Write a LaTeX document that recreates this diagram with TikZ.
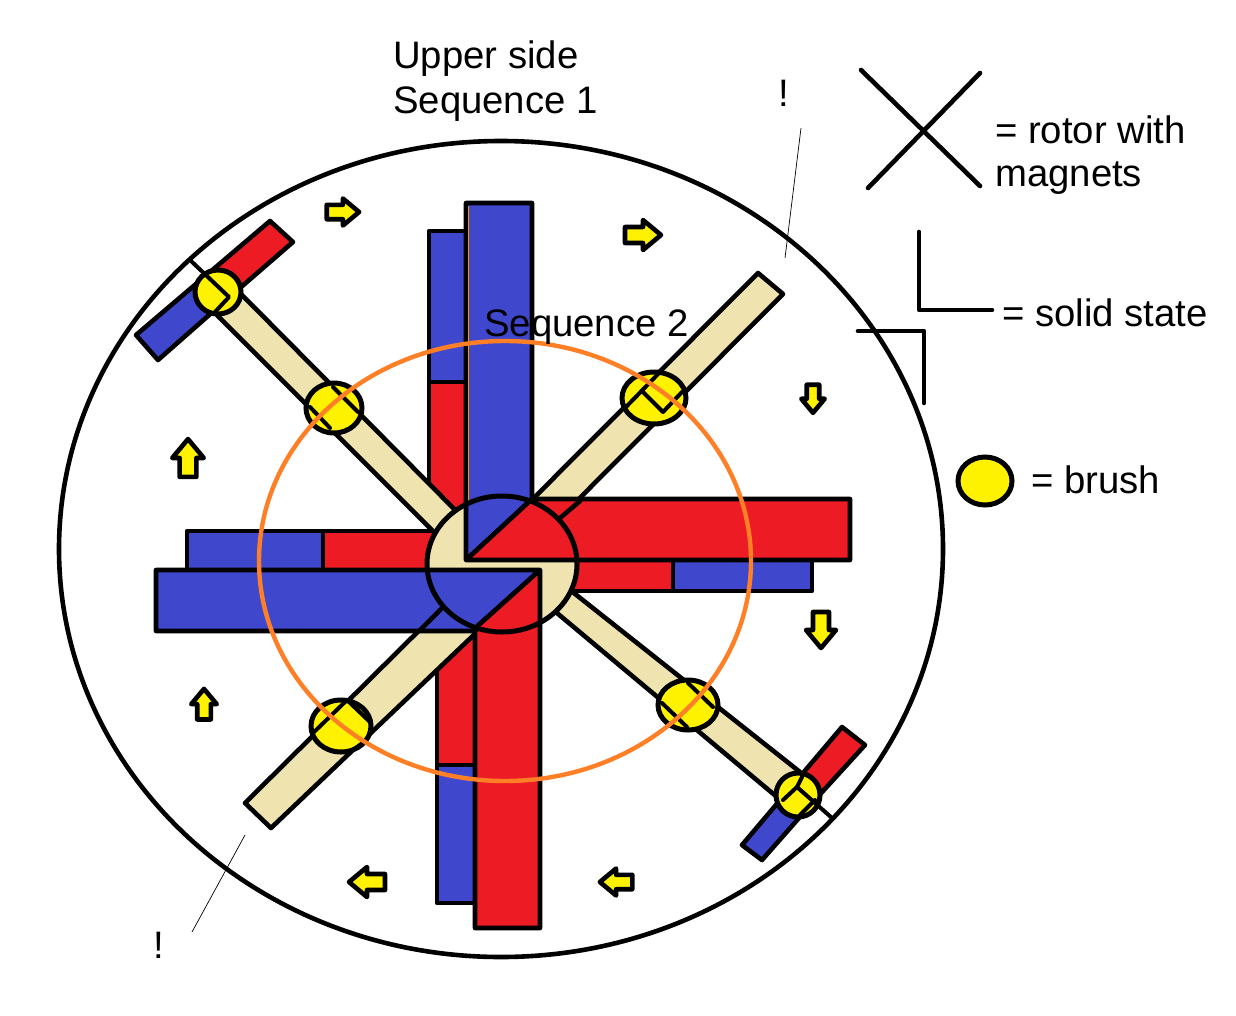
\documentclass[tikz,border=0pt]{standalone}
\usepackage{fontspec}
\setmainfont{Liberation Sans}
\definecolor{cblue}{HTML}{3F48CC}
\definecolor{cred}{HTML}{ED1C24}
\definecolor{ccream}{HTML}{EFE4B0}
\definecolor{cyel}{HTML}{FFF200}
\definecolor{corange}{HTML}{FF7F27}
\tikzset{
 ink/.style={draw=black,line width=4.6pt,line join=round},
 inkline/.style={draw=black,line width=4.6pt,line cap=round,line join=round},
 trace/.style={draw=black,line width=4pt,line cap=round,line join=round},
 hair/.style={draw=black,line width=0.7pt},
 brushspot/.style={draw=black,line width=5pt,fill=cyel},
 label/.style={font=\fontsize{38.3}{44}\selectfont,anchor=base west,inner sep=0pt,align=left},
}
\newcommand{\blk}[4]{%
 \draw[ink,fill=cyel,shift={(#1,#2)},rotate=#3,scale=#4]
 (-17,-8) -- (1,-8) -- (1,-15) -- (19,0) -- (1,15) -- (1,8) -- (-17,8) -- cycle;}
\begin{document}
\begin{tikzpicture}[x=1pt,y=-1pt]
\useasboundingbox (0,0) rectangle (1236,1015);
\fill[white] (0,0) rectangle (1236,1015);
% outer circle
\draw[black,line width=4.6pt] (501,549) ellipse [x radius=442,y radius=408];
% back bars
\draw[ink,fill=cblue] (429,231) rectangle (467,382);
\draw[ink,fill=cred] (429,382) rectangle (467,530);
\draw[ink,fill=cblue] (187,531) rectangle (323,570);
\draw[ink,fill=cred] (323,531) rectangle (450,570);
\draw[ink,fill=cred] (570,560) rectangle (673,591);
\draw[ink,fill=cblue] (673,560) rectangle (812,591);
\draw[ink,fill=cred] (437,620) rectangle (475,765);
\draw[ink,fill=cblue] (437,765) rectangle (475,903);
% arms
\draw[ink,fill=ccream] (758,273) -- (783,294) -- (520,558) -- (480,552) -- cycle;
\draw[ink,fill=ccream] (245,803) -- (271,828) -- (500,610) -- (470,580) -- cycle;
\draw[ink,fill=ccream] (242,295) -- (470,525) -- (450,548) -- (217,315) -- cycle;
\draw[ink,fill=ccream] (800,772) -- (777,797) -- (545,603) -- (560,582) -- cycle;
% front bars
\draw[ink,fill=cred] (466,560) -- (532,499) -- (850,499) -- (850,560) -- cycle;
\draw[ink,fill=cblue] (466,560) -- (466,203) -- (532,203) -- (532,499) -- cycle;
\draw[ink,fill=cred] (540,570) -- (540,928) -- (475,928) -- (475,631) -- cycle;
\draw[ink,fill=cblue] (540,570) -- (156,570) -- (156,631) -- (472,631) -- cycle;
\draw[line width=1pt,draw=orange!80!yellow] (468.5,206) -- (468.5,556);
% arm edges lying over the front bars
\draw[inkline] (560,518) -- (580,501);
\draw[inkline] (443,607) -- (419,631);
% hub
\draw[draw=none,fill=ccream] (502,564) ellipse [x radius=75,y radius=68];
\begin{scope}
\clip (502,564) ellipse [x radius=75,y radius=68];
\draw[ink,fill=cblue] (466,560) -- (466,480) -- (532,480) -- (532,499) -- cycle;
\draw[ink,fill=cred] (466,560) -- (532,499) -- (600,480) -- (600,560) -- cycle;
\draw[ink,fill=cblue] (540,570) -- (400,570) -- (400,650) -- (472,631) -- cycle;
\draw[ink,fill=cred] (540,570) -- (540,650) -- (475,650) -- (472,631) -- cycle;
\end{scope}
\draw[black,line width=5pt] (502,564) ellipse [x radius=75,y radius=68];
% T-heads
\draw[ink,fill=cred] (203,278) -- (270,221) -- (293,242) -- (225,301) -- cycle;
\draw[ink,fill=cblue] (203,278) -- (136,335) -- (158,360) -- (225,301) -- cycle;
\draw[ink,fill=cred] (792,786) -- (842,727) -- (865,745) -- (813,802) -- cycle;
\draw[ink,fill=cblue] (792,786) -- (742,845) -- (762,860) -- (813,802) -- cycle;
% brushes
\path[brushspot] (218,292) ellipse [x radius=23,y radius=22];
\path[brushspot] (334,408) ellipse [x radius=28,y radius=25];
\path[brushspot] (654,398) ellipse [x radius=32,y radius=26];
\path[brushspot] (688,705) ellipse [x radius=30,y radius=25];
\path[brushspot] (341,726) ellipse [x radius=30,y radius=26];
\path[brushspot] (798,795) ellipse [x radius=22,y radius=22];
% edge and shaft traces over brushes
\draw[trace] (190,260) -- (229,297) -- (215,312);
\draw[trace] (310,407) -- (330,428);
\draw[trace] (333,387) -- (358,412);
\draw[trace] (625,408) -- (660,372);
\draw[trace] (643,392) -- (663,412) -- (682,392);
\draw[trace] (662,703) -- (687,727);
\draw[trace] (688,683) -- (713,707);
\draw[trace] (313,733) -- (347,700) -- (370,722);
\draw[trace] (364,742) -- (350,752);
\draw[trace] (802,777) -- (797,787) -- (783,800);
\draw[trace] (797,787) -- (832,818);
\draw[trace] (815,800) -- (800,815);
% orange ring
\draw[corange,line width=4.4pt] (505,561) ellipse [x radius=246,y radius=220];
% direction arrows
\blk{342}{212}{0}{0.9}
\blk{642}{235}{0}{1}
\blk{813}{398}{-90}{0.78}
\blk{821}{629}{-90}{1}
\blk{617}{882}{180}{0.9}
\blk{368}{882}{180}{1}
\blk{204}{705}{90}{0.85}
\blk{188}{459}{90}{1.05}
% legend
\coordinate (xa) at (861,70); \coordinate (xb) at (980,186);
\coordinate (xc) at (980,73); \coordinate (xd) at (868,188);
\draw[inkline] (xa) -- (xb);
\draw[inkline] (xc) -- (xd);
\draw[inkline] (919,232) -- (919,310) -- (992,310);
\draw[inkline] (858,331) -- (924,331) -- (924,403);
\path[brushspot] (985,481) ellipse [x radius=27,y radius=24];
% thin leaders
\node[label] (ex1) at (778,106) {!};
\node[label] (ex2) at (153,958) {!};
\coordinate (la) at (801,128); \coordinate (lb) at (785,258);
\coordinate (lc) at (245,835); \coordinate (ld) at (192,932);
\draw[hair] (la) -- (lb);
\draw[hair] (lc) -- (ld);
% text
\node[label] (t1) at (393,68) {Upper side};
\node[label] (t2) at (393,113) {Sequence 1};
\node[label] (t3) at (484,336) {Sequence 2};
\node[label] (t4) at (995,143) {= rotor with};
\node[label] (t5) at (995,186) {magnets};
\node[label] (t6) at (1002,326) {= solid state};
\node[label] (t7) at (1031,493) {= brush};
\end{tikzpicture}
\end{document}
